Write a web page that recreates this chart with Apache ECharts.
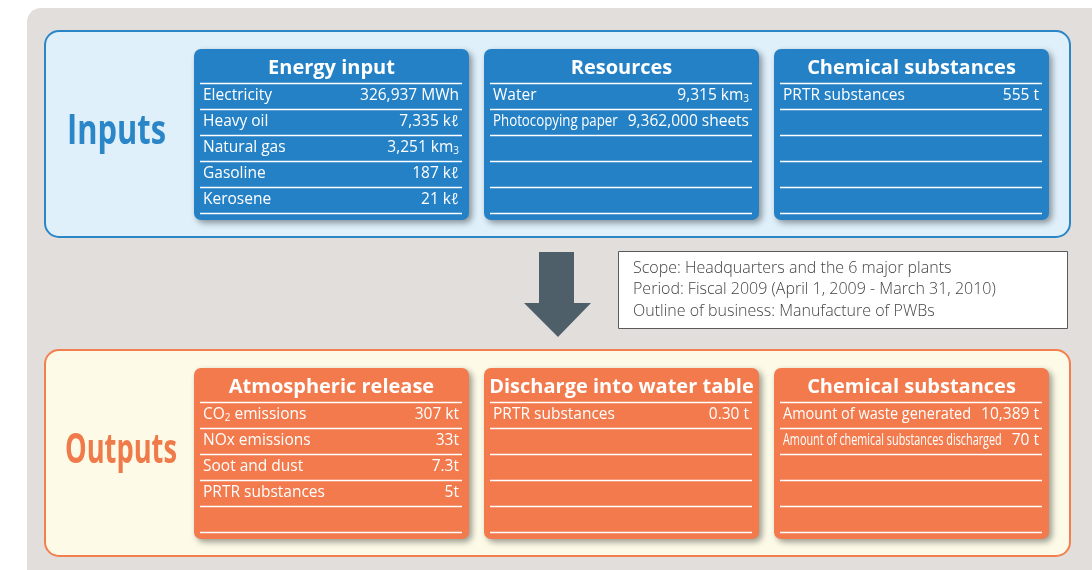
<!DOCTYPE html>
<html>
<head>
<meta charset="utf-8">
<script src="https://cdn.jsdelivr.net/npm/echarts@6/dist/echarts.min.js"></script>
<style>html,body{margin:0;padding:0;background:#fff}#c{width:1092px;height:570px}</style>
</head>
<body>
<div id="c"></div>
<script>
// ---------- data ----------
const inputGroups = ['Energy input', 'Resources', 'Chemical substances'];
const energyItems = ['Electricity', 'Heavy oil', 'Natural gas', 'Gasoline', 'Kerosene'];
const energyValues = [326937, 7335, 3251, 187, 21];
const energyUnits = [' MWh', ' kℓ', ' km³', ' kℓ', ' kℓ'];
const energyDecimals = [0, 0, 0, 0, 0];
const resourceItems = ['Water', 'Photocopying paper'];
const resourceValues = [9315, 9362000];
const resourceUnits = [' km³', ' sheets'];
const resourceDecimals = [0, 0];
const chemInItems = ['PRTR substances'];
const chemInValues = [555];
const chemInUnits = [' t'];
const chemInDecimals = [0];

const outputGroups = ['Atmospheric release', 'Discharge into water table', 'Chemical substances'];
const airItems = ['CO₂ emissions', 'NOx emissions', 'Soot and dust', 'PRTR substances'];
const airValues = [307, 33, 7.3, 5];
const airUnits = [' kt', 't', 't', 't'];
const airDecimals = [0, 0, 1, 0];
const waterItems = ['PRTR substances'];
const waterValues = [0.30];
const waterUnits = [' t'];
const waterDecimals = [2];
const chemOutItems = ['Amount of waste generated', 'Amount of chemical substances discharged'];
const chemOutValues = [10389, 70];
const chemOutUnits = [' t', ' t'];
const chemOutDecimals = [0, 0];

const scopeLines = [
  'Scope: Headquarters and the 6 major plants',
  'Period: Fiscal 2009 (April 1, 2009 - March 31, 2010)',
  'Outline of business: Manufacture of PWBs'
];
const sectionTitles = ['Inputs', 'Outputs'];

// ---------- layout / style ----------
const FONT = 'Open Sans';
const BLUE = '#2481c6', ORANGE = '#f27a4c';
const boxX = [194, 484, 774], boxW = 275, boxH = 171;
const inTop = 49, outTop = 368;
const headOff = 33.5, rowH = 26, nRows = 5;
const ROW_FS = 15.5, ROW_FW = 'normal';

const ctx = document.createElement('canvas').getContext('2d');
function measure(t, size, weight) {
  ctx.font = weight + ' ' + size + 'px "' + FONT + '"';
  return ctx.measureText(t).width;
}
function fmt(v, d) {
  return v.toLocaleString('en-US', {minimumFractionDigits: d, maximumFractionDigits: d});
}
function toRich(s) {
  return s.replace(/³/g, '{sm|3}').replace(/₂/g, '{sm|2}');
}
const rich = {sm: {fontSize: 10, fontFamily: FONT, fontWeight: ROW_FW, fill: '#fff', verticalAlign: 'bottom', lineHeight: 15}};

const elements = [];
elements.push({type: 'rect', shape: {x: 27, y: 8, width: 1100, height: 600, r: 14}, style: {fill: '#e2dedb'}, z: 0});
elements.push({type: 'rect', shape: {x: 45, y: 31, width: 1025, height: 206, r: 14},
  style: {fill: '#dff0fb', stroke: '#2b86c8', lineWidth: 2}, z: 1});
elements.push({type: 'rect', shape: {x: 45, y: 350, width: 1025, height: 206, r: 14},
  style: {fill: '#fdfbe7', stroke: '#f2804f', lineWidth: 2}, z: 1});

function addSection(t, x, y, targetW, color) {
  const w = measure(t, 42, 'bold');
  elements.push({type: 'text', x: x, y: y, scaleX: targetW / w, z: 5, style: {text: t, fill: color,
    fontSize: 42, fontFamily: FONT, fontWeight: 'bold', verticalAlign: 'middle'}});
}
addSection(sectionTitles[0], 67, 132, 99, '#2b86c8');
addSection(sectionTitles[1], 65, 451, 112, '#f07b4a');

function addBox(bx, top, color, title, items, values, units, decs) {
  elements.push({type: 'rect', shape: {x: bx, y: top, width: boxW, height: boxH, r: 7},
    style: {fill: color, shadowBlur: 6, shadowOffsetX: 3, shadowOffsetY: 3, shadowColor: 'rgba(0,0,0,0.4)'}, z: 2});
  elements.push({type: 'text', x: bx + boxW / 2, y: top + 19, z: 5,
    style: {text: title, fill: '#fff', fontSize: 20, fontFamily: FONT, fontWeight: 'bold', align: 'center', verticalAlign: 'middle'}});
  for (let i = 0; i <= nRows; i++) {
    const ly = Math.round(top + headOff + rowH * i) + 0.5;
    elements.push({type: 'line', shape: {x1: bx + 6, y1: ly, x2: bx + 268, y2: ly},
      style: {stroke: '#fff', lineWidth: 1.5}, z: 4});
  }
  items.forEach((lab, i) => {
    const cy = top + headOff + rowH * i + 13;
    const val = fmt(values[i], decs[i]) + units[i];
    const lw = measure(lab.replace('₂', '2'), ROW_FS, ROW_FW), vw = measure(val.replace('³', '3'), ROW_FS, ROW_FW);
    const avail = 256 - 10 - vw;
    const sx = lw > avail ? avail / lw : 1;
    elements.push({type: 'text', x: bx + 9, y: cy, scaleX: sx, z: 5,
      style: {text: toRich(lab), rich: rich, fill: '#fff', fontSize: ROW_FS, fontFamily: FONT, fontWeight: ROW_FW,
        lineHeight: 18, align: 'left', verticalAlign: 'middle'}});
    elements.push({type: 'text', x: bx + 265, y: cy, z: 5,
      style: {text: toRich(val), rich: rich, fill: '#fff', fontSize: ROW_FS, fontFamily: FONT, fontWeight: ROW_FW,
        lineHeight: 18, align: 'right', verticalAlign: 'middle'}});
  });
}

addBox(boxX[0], inTop, BLUE, inputGroups[0], energyItems, energyValues, energyUnits, energyDecimals);
addBox(boxX[1], inTop, BLUE, inputGroups[1], resourceItems, resourceValues, resourceUnits, resourceDecimals);
addBox(boxX[2], inTop, BLUE, inputGroups[2], chemInItems, chemInValues, chemInUnits, chemInDecimals);
addBox(boxX[0], outTop, ORANGE, outputGroups[0], airItems, airValues, airUnits, airDecimals);
addBox(boxX[1], outTop, ORANGE, outputGroups[1], waterItems, waterValues, waterUnits, waterDecimals);
addBox(boxX[2], outTop, ORANGE, outputGroups[2], chemOutItems, chemOutValues, chemOutUnits, chemOutDecimals);

elements.push({type: 'polygon', z: 3, shape: {points: [[539, 252], [574, 252], [574, 303], [591, 303], [558, 337], [524, 303], [539, 303]]},
  style: {fill: '#4e5f69'}});
elements.push({type: 'rect', z: 3, shape: {x: 618.5, y: 251.5, width: 449, height: 77},
  style: {fill: '#fff', stroke: '#5a5a5a', lineWidth: 1}});
scopeLines.forEach((t, i) => {
  elements.push({type: 'text', x: 633, y: 268 + i * 21.5, z: 5,
    style: {text: t, fill: '#444', fontSize: 16, fontFamily: FONT, fontWeight: 300, verticalAlign: 'middle'}});
});

const chart = echarts.init(document.getElementById('c'), null, {renderer: 'canvas'});
chart.setOption({animation: false, graphic: {elements: elements}});
</script>
</body>
</html>
